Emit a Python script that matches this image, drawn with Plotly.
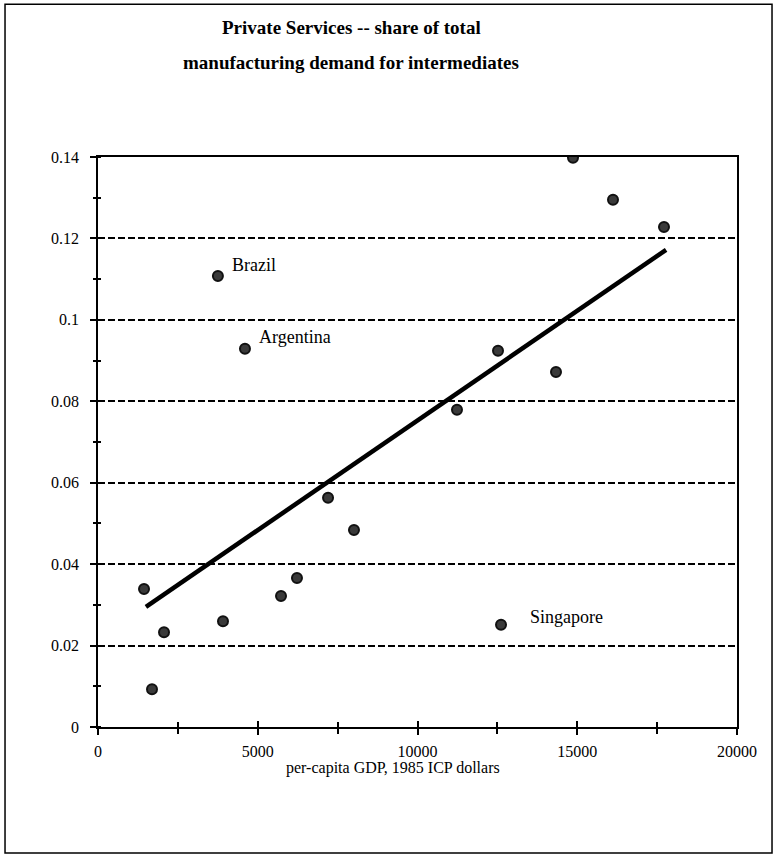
import plotly.graph_objects as go

# ---- data ----
gdp = [1440, 1690, 2066, 3753, 3912, 4600, 5728, 6228, 7200, 8012,
       11236, 12520, 12614, 14335, 14867, 16119, 17715]
share = [0.0339, 0.0093, 0.0233, 0.1108, 0.0260, 0.0929, 0.0322, 0.0366, 0.0563, 0.0484,
         0.0779, 0.0924, 0.0251, 0.0872, 0.1398, 0.1295, 0.1228]
country = ["", "", "", "Brazil", "", "Argentina", "", "", "", "",
           "", "", "Singapore", "", "", "", ""]

fit_x = [1500, 17780]
fit_y = [0.0295, 0.1172]

x_ticks = [0, 5000, 10000, 15000, 20000]
y_ticks = [0, 0.02, 0.04, 0.06, 0.08, 0.1, 0.12, 0.14]
y_tick_text = ["0", "0.02", "0.04", "0.06", "0.08", "0.1", "0.12", "0.14"]

title_lines = ["Private Services -- share of total",
               "manufacturing demand for intermediates"]
x_title = "per-capita GDP, 1985 ICP dollars"

SERIF = "Liberation Serif, Times New Roman, serif"

fig = go.Figure()

fig.add_trace(go.Scatter(
    x=fit_x, y=fit_y, mode="lines",
    line=dict(color="black", width=4.5),
    hoverinfo="skip", showlegend=False))

fig.add_trace(go.Scatter(
    x=gdp, y=share, mode="markers",
    marker=dict(size=10, color="#3a3a3a", line=dict(color="#111111", width=2)),
    showlegend=False))

# invisible trace so the overlay axes (inner halves of crossing ticks) are drawn
fig.add_trace(go.Scatter(x=[], y=[], xaxis="x2", yaxis="y2", showlegend=False))

# country labels
label_shift = {"Brazil": (12, 11), "Argentina": (12, 12), "Singapore": (27, 8)}
for xv, yv, name in zip(gdp, share, country):
    if name:
        dx, dy = label_shift[name]
        fig.add_annotation(x=xv, y=yv, text=name, showarrow=False,
                           xanchor="left", yanchor="middle",
                           xshift=dx, yshift=dy,
                           font=dict(family=SERIF, size=18, color="black"))

# title lines
fig.add_annotation(x=0.396, y=1, xref="paper", yref="paper", text="<b>%s</b>" % title_lines[0],
                   showarrow=False, xanchor="center", yanchor="middle", yshift=130,
                   font=dict(family=SERIF, size=19, color="black"))
fig.add_annotation(x=0.396, y=1, xref="paper", yref="paper", text="<b>%s</b>" % title_lines[1],
                   showarrow=False, xanchor="center", yanchor="middle", yshift=95,
                   font=dict(family=SERIF, size=19, color="black"))
# x-axis title
fig.add_annotation(x=0.4617, y=0, xref="paper", yref="paper", text=x_title,
                   showarrow=False, xanchor="center", yanchor="middle", yshift=-41,
                   font=dict(family=SERIF, size=16, color="black"))

# outer frame
fig.add_shape(type="rect", xref="paper", yref="paper",
              x0=-0.1455, x1=1.0548, y0=-0.221, y1=1.268,
              line=dict(color="black", width=1.5), layer="below")

xrange = [0, 20000]
yrange = [0, 0.14]

fig.update_layout(
    width=776, height=864,
    margin=dict(l=98, r=39, t=157, b=137),
    paper_bgcolor="white", plot_bgcolor="white",
    font=dict(family=SERIF, size=16, color="black"),
    xaxis=dict(range=xrange, tickvals=x_ticks, ticktext=[str(v) for v in x_ticks],
               ticks="outside", ticklen=6, tickwidth=1.5, tickcolor="black",
               minor=dict(dtick=2500, tick0=0, ticks="outside", ticklen=5,
                          tickwidth=1.5, tickcolor="black", showgrid=False),
               showline=True, linecolor="black", linewidth=1.5, mirror=True,
               showgrid=False, zeroline=False, ticklabelstandoff=3,
               tickfont=dict(family=SERIF, size=16, color="black")),
    yaxis=dict(range=yrange, tickvals=y_ticks, ticktext=y_tick_text,
               ticks="outside", ticklen=6, tickwidth=1.5, tickcolor="black",
               minor=dict(dtick=0.01, tick0=0, ticks="outside", ticklen=3,
                          tickwidth=1.5, tickcolor="black", showgrid=False),
               showline=True, linecolor="black", linewidth=1.5, mirror=True,
               showgrid=True, gridcolor="black", gridwidth=1.7, griddash="7px,3px",
               zeroline=False, ticklabelstandoff=8,
               tickfont=dict(family=SERIF, size=16, color="black")),
    xaxis2=dict(range=xrange, overlaying="x", anchor="y2", side="bottom",
                tickvals=x_ticks, showticklabels=False,
                ticks="inside", ticklen=6, tickwidth=1.5, tickcolor="black",
                minor=dict(dtick=2500, tick0=0, ticks="inside", ticklen=5,
                           tickwidth=1.5, tickcolor="black", showgrid=False),
                showline=False, showgrid=False, zeroline=False),
    yaxis2=dict(range=yrange, overlaying="y", anchor="x2", side="left",
                tickvals=y_ticks, showticklabels=False,
                ticks="",
                minor=dict(dtick=0.01, tick0=0, ticks="inside", ticklen=3,
                           tickwidth=1.5, tickcolor="black", showgrid=False),
                showline=False, showgrid=False, zeroline=False),
    showlegend=False,
)

fig.write_html("out.html")
